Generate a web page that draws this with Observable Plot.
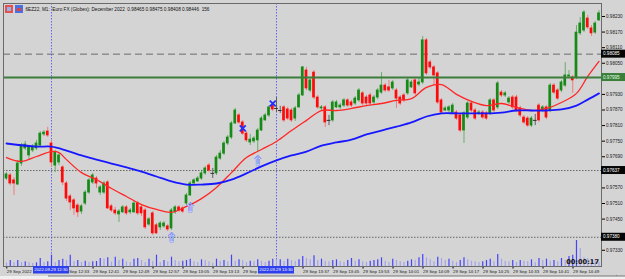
<!DOCTYPE html>
<html><head><meta charset="utf-8">
<script src="https://cdn.jsdelivr.net/npm/d3@7"></script>
<script src="https://cdn.jsdelivr.net/npm/@observablehq/plot@0.6"></script>
<style>
html,body{margin:0;padding:0;background:#d4d4d4;}
#wrap{position:relative;width:625px;height:279px;overflow:hidden;background:#d4d4d4;}
#wrap svg{position:absolute;left:0;top:0;}
</style></head>
<body><div id="wrap"></div>
<script>
// ---- data (Euro FX Dec 2022, M1 bars) ----
const open = [0.97606,0.97618,0.97599,0.97583,0.97664,0.97722,0.97695,0.97714,0.97722,0.97733,
0.97776,0.97787,0.97741,0.97656,0.97668,0.97649,0.97587,0.97537,0.97522,0.97502,
0.97479,0.97510,0.97552,0.97591,0.97606,0.97552,0.97552,0.97591,0.97499,0.97483,
0.97468,0.97476,0.97495,0.97476,0.97476,0.97510,0.97495,0.97483,0.97429,0.97472,
0.97426,0.97418,0.97422,0.97422,0.97414,0.97476,0.97495,0.97491,0.97510,0.97541,
0.97587,0.97595,0.97606,0.97626,0.97656,0.97626,0.97626,0.97683,0.97702,0.97741,
0.97764,0.97818,0.97849,0.97822,0.97779,0.97745,0.97749,0.97753,0.97791,0.97830,
0.97849,0.97887,0.97876,0.97868,0.97880,0.97872,0.97868,0.97837,0.97880,0.97926,
0.98022,0.97945,0.98014,0.97918,0.97876,0.97880,0.97830,0.97830,0.97880,0.97880,
0.97887,0.97907,0.97899,0.97895,0.97907,0.97934,0.97918,0.97926,0.97899,0.97918,
0.97937,0.97964,0.97957,0.97953,0.97945,0.97918,0.97926,0.97934,0.97957,0.97984,
0.97968,0.97976,0.98138,0.98053,0.98034,0.98011,0.97907,0.97868,0.97868,0.97860,
0.97860,0.97849,0.97791,0.97841,0.97895,0.97868,0.97857,0.97860,0.97857,0.97857,
0.97907,0.97880,0.97937,0.97926,0.97899,0.97918,0.97918,0.97876,0.97841,0.97837,
0.97810,0.97830,0.97887,0.97868,0.97880,0.97868,0.97964,0.97945,0.97945,0.97964,
0.97999,0.97995,0.97995,0.98165,0.98176,0.98222,0.98184,0.98168,0.98215];
const high = [0.97629,0.97626,0.97610,0.97676,0.97741,0.97749,0.97733,0.97737,0.97753,0.97787,
0.97791,0.97803,0.97753,0.97714,0.97702,0.97656,0.97595,0.97545,0.97529,0.97510,
0.97506,0.97560,0.97606,0.97626,0.97614,0.97579,0.97595,0.97599,0.97506,0.97495,
0.97487,0.97502,0.97502,0.97491,0.97518,0.97518,0.97502,0.97491,0.97456,0.97479,
0.97433,0.97441,0.97441,0.97429,0.97491,0.97502,0.97502,0.97499,0.97549,0.97595,
0.97606,0.97614,0.97633,0.97653,0.97664,0.97645,0.97695,0.97714,0.97749,0.97772,
0.97826,0.97876,0.97857,0.97830,0.97787,0.97776,0.97768,0.97799,0.97845,0.97857,
0.97887,0.97895,0.97918,0.97884,0.97887,0.97880,0.97876,0.97884,0.97934,0.98038,
0.98034,0.97995,0.98022,0.97926,0.97887,0.97887,0.97849,0.97907,0.97907,0.97895,
0.97914,0.97914,0.97907,0.97922,0.97953,0.97941,0.97926,0.97934,0.97926,0.97953,
0.98014,0.97972,0.97984,0.97984,0.97953,0.97926,0.97934,0.97995,0.97984,0.97991,
0.97991,0.98153,0.98145,0.98061,0.98041,0.98018,0.97914,0.97884,0.97887,0.97895,
0.97868,0.97857,0.97864,0.97903,0.97903,0.97876,0.97868,0.97868,0.97864,0.97914,
0.97914,0.97980,0.97945,0.97941,0.97922,0.97926,0.97926,0.97884,0.97849,0.97845,
0.97845,0.97853,0.97895,0.97887,0.97887,0.97972,0.97972,0.97953,0.97984,0.98053,
0.98022,0.98003,0.98195,0.98226,0.98253,0.98234,0.98195,0.98211,0.98253];
const low = [0.97599,0.97579,0.97541,0.97579,0.97653,0.97714,0.97676,0.97706,0.97714,0.97726,
0.97768,0.97764,0.97649,0.97629,0.97656,0.97579,0.97518,0.97483,0.97464,0.97456,
0.97468,0.97502,0.97545,0.97583,0.97568,0.97541,0.97545,0.97487,0.97476,0.97464,
0.97437,0.97472,0.97464,0.97468,0.97472,0.97464,0.97460,0.97410,0.97422,0.97387,
0.97391,0.97406,0.97414,0.97402,0.97406,0.97468,0.97476,0.97472,0.97502,0.97537,
0.97579,0.97591,0.97599,0.97618,0.97629,0.97606,0.97618,0.97676,0.97695,0.97733,
0.97756,0.97814,0.97814,0.97772,0.97745,0.97733,0.97741,0.97706,0.97787,0.97826,
0.97841,0.97864,0.97860,0.97857,0.97822,0.97830,0.97822,0.97826,0.97876,0.97922,
0.97945,0.97937,0.97910,0.97872,0.97868,0.97803,0.97810,0.97822,0.97876,0.97872,
0.97880,0.97880,0.97880,0.97887,0.97899,0.97887,0.97887,0.97887,0.97891,0.97910,
0.97930,0.97937,0.97937,0.97945,0.97876,0.97887,0.97899,0.97926,0.97953,0.97926,
0.97960,0.97968,0.98003,0.98026,0.97964,0.97891,0.97853,0.97864,0.97860,0.97853,
0.97830,0.97783,0.97741,0.97833,0.97860,0.97830,0.97849,0.97833,0.97830,0.97849,
0.97860,0.97872,0.97918,0.97918,0.97891,0.97872,0.97860,0.97841,0.97814,0.97803,
0.97803,0.97810,0.97822,0.97860,0.97833,0.97860,0.97930,0.97907,0.97937,0.97957,
0.97991,0.97934,0.97987,0.98157,0.98168,0.98180,0.98153,0.98161,0.98211];
const close = [0.97622,0.97587,0.97587,0.97664,0.97733,0.97737,0.97726,0.97729,0.97741,0.97779,
0.97783,0.97772,0.97668,0.97706,0.97695,0.97591,0.97529,0.97514,0.97491,0.97476,
0.97499,0.97552,0.97599,0.97618,0.97587,0.97572,0.97587,0.97491,0.97483,0.97472,
0.97479,0.97495,0.97472,0.97483,0.97510,0.97472,0.97472,0.97418,0.97449,0.97395,
0.97395,0.97433,0.97433,0.97410,0.97483,0.97495,0.97483,0.97479,0.97541,0.97587,
0.97599,0.97606,0.97626,0.97645,0.97637,0.97626,0.97687,0.97702,0.97741,0.97764,
0.97818,0.97868,0.97822,0.97779,0.97753,0.97756,0.97760,0.97791,0.97837,0.97849,
0.97880,0.97872,0.97876,0.97868,0.97830,0.97837,0.97830,0.97876,0.97926,0.98034,
0.97953,0.97984,0.97918,0.97880,0.97880,0.97822,0.97830,0.97899,0.97899,0.97887,
0.97907,0.97887,0.97887,0.97914,0.97945,0.97895,0.97895,0.97895,0.97918,0.97945,
0.97964,0.97945,0.97945,0.97976,0.97914,0.97895,0.97907,0.97984,0.97976,0.97934,
0.97976,0.98138,0.98011,0.98034,0.98003,0.97899,0.97860,0.97876,0.97880,0.97887,
0.97837,0.97791,0.97857,0.97895,0.97868,0.97837,0.97860,0.97841,0.97837,0.97907,
0.97868,0.97972,0.97926,0.97934,0.97914,0.97880,0.97868,0.97849,0.97822,0.97810,
0.97837,0.97830,0.97830,0.97880,0.97841,0.97964,0.97937,0.97914,0.97976,0.98003,
0.98003,0.97984,0.98168,0.98203,0.98245,0.98188,0.98165,0.98203,0.98242];
const volume = [50,90,60,90,60,70,60,45,55,120,
60,70,170,60,90,110,90,170,70,90,
60,80,60,70,75,120,110,130,65,140,
90,110,70,60,110,120,90,60,110,75,
170,60,90,70,140,90,70,80,90,110,
70,60,100,90,70,50,110,80,90,70,
170,80,100,90,60,80,70,100,80,60,
80,110,90,100,70,110,90,80,100,150,
120,100,160,90,110,80,70,90,100,70,
60,90,120,80,100,70,60,80,90,100,
130,80,60,110,90,70,60,80,100,90,
130,180,130,100,70,140,120,90,110,80,
60,90,130,100,80,70,60,70,90,110,
70,180,110,80,70,90,60,90,80,70,
100,60,120,90,110,80,90,70,120,90,
150,170,390,270,130,120,100,90,60];

const redMAIdx = [0,4,8,12,14,16,20,24,28,32,36,40,44,48,52,56,60,64,68,72,76,80,84,88,92,96,100,104,108,112,116,120,124,128,132,136,140,144,148,152,155,158];
const redMA = [0.97687,0.97672,0.97691,0.97710,0.97706,0.97679,0.97629,0.97602,0.97568,0.97537,0.97506,0.97487,0.97476,0.97499,0.97529,0.97572,0.97629,0.97687,0.97718,0.97749,0.97791,0.97830,0.97868,0.97868,0.97876,0.97887,0.97895,0.97907,0.97914,0.97957,0.97968,0.97930,0.97903,0.97887,0.97895,0.97880,0.97868,0.97876,0.97899,0.97934,0.97999,0.98057];
const blueMAIdx = [0,8,12,16,20,24,28,32,36,40,44,48,52,56,60,64,68,72,76,80,84,88,92,96,100,104,108,112,116,120,124,128,132,136,140,144,148,152,155,158];
const blueMA = [0.97741,0.97729,0.97729,0.97714,0.97695,0.97679,0.97664,0.97649,0.97633,0.97614,0.97595,0.97583,0.97583,0.97587,0.97602,0.97626,0.97653,0.97676,0.97695,0.97710,0.97733,0.97745,0.97756,0.97776,0.97791,0.97806,0.97822,0.97845,0.97857,0.97857,0.97857,0.97857,0.97860,0.97868,0.97868,0.97868,0.97872,0.97887,0.97910,0.97934];

// tick labels visible on the price axis (the others are hidden behind the level boxes)
const yTicks = [0.98230,0.98170,0.98110,0.98050,0.97930,0.97870,0.97810,0.97750,0.97690,0.97570,0.97510,0.97450,0.97330];
const timeTickIdx = [0,15,23,31,39,47,55,63,79,87,95,103,111,119,127,135,143,151];
const timeLabels = ["29 Sep 2022","29 Sep 12:33","29 Sep 12:41","29 Sep 12:49","29 Sep 12:57","29 Sep 13:05","29 Sep 13:13","29 Sep 13:21","29 Sep 13:37","29 Sep 13:45","29 Sep 13:53","29 Sep 14:01","29 Sep 14:09","29 Sep 14:17","29 Sep 14:25","29 Sep 14:33","29 Sep 14:41","29 Sep 14:49"];

const levelDashed = [0.98085];
const levelGreen = [0.97995];
const levelDotted = [0.97637, 0.97380];
const boxLevels = [0.98085, 0.97995, 0.97637, 0.97380];
const vLineIdx = [12, 72];
const vLineLabels = ["2022.09.29 12:30", "2022.09.29 13:30"];
const arrowIdx = [44, 49, 67];
const arrowPrice = [0.97379, 0.97495, 0.97676];
const crossIdx = [63, 71];
const crossPrice = [0.97799, 0.97895];
const headerText = "6EZ22, M1:  Euro FX (Globex): December 2022  0.98465 0.98475 0.98408 0.98446  156";
const timerText = "00:00:17";

// ---- build ----
const bars = open.map((o, i) => ({i, open: o, high: high[i], low: low[i], close: close[i], vol: volume[i]}));
const up = bars.filter(d => d.close > d.open);
const dn = bars.filter(d => d.close < d.open);
const dj = bars.filter(d => d.close === d.open);
const redLine = redMAIdx.map((i, k) => ({i, v: redMA[k]}));
const blueLine = blueMAIdx.map((i, k) => ({i, v: blueMA[k]}));
const arrows = arrowIdx.map((i, k) => ({i, p: arrowPrice[k]}));
const crosses = crossIdx.map((i, k) => ({i, p: crossPrice[k]}));
const labelOf = new Map(timeTickIdx.map((d, k) => [d, timeLabels[k]]));
const volUp = bars.filter(d => d.i > 0 && d.vol > volume[d.i - 1]);
const volDn = bars.filter(d => !(d.i > 0 && d.vol > volume[d.i - 1]));

const W = 625, H = 279, mL = 3, mR = 24, mT = 3, mB = 13;
const xDom = [-0.8, bars.length - 1 + 0.67];
const yDom = [0.972675, 0.98280];
const bw = 0.36;
const FONT = "Liberation Sans, Arial, sans-serif";

const main = Plot.plot({
  width: W, height: H, marginLeft: mL, marginRight: mR, marginTop: mT, marginBottom: mB,
  style: {background: "#d4d4d4", fontFamily: FONT, overflow: "visible"},
  x: {domain: xDom, axis: null},
  y: {domain: yDom, axis: null},
  marks: [
    Plot.ruleY(levelDotted, {stroke: "#4a4a4a", strokeDasharray: "1.5,1.5", strokeWidth: 0.8}),
    Plot.ruleY(levelDashed, {stroke: "#6a6a6a", strokeDasharray: "7,4", strokeWidth: 1}),
    Plot.ruleX(vLineIdx, {stroke: "#4646ff", strokeDasharray: "1.5,1.5", strokeWidth: 0.8}),
    // wicks
    Plot.ruleX(up, {x: "i", y1: "low", y2: "high", stroke: "#68b068", strokeWidth: 1}),
    Plot.ruleX(dn, {x: "i", y1: "low", y2: "high", stroke: "#f27a7a", strokeWidth: 1}),
    Plot.ruleX(dj, {x: "i", y1: "low", y2: "high", stroke: "#606060", strokeWidth: 1}),
    // bodies
    Plot.rect(up, {x1: d => d.i - bw, x2: d => d.i + bw, y1: "open", y2: "close", fill: "#168a16", insetTop: -0.4, insetBottom: -0.4}),
    Plot.rect(dn, {x1: d => d.i - bw, x2: d => d.i + bw, y1: "open", y2: "close", fill: "#ff0a0a", insetTop: -0.4, insetBottom: -0.4}),
    Plot.ruleY(dj, {y: "open", x1: d => d.i - 0.5, x2: d => d.i + 0.5, stroke: "#303030", strokeWidth: 1}),
    // moving averages
    Plot.line(redLine, {x: "i", y: "v", stroke: "#ff2626", strokeWidth: 1.3, curve: "catmull-rom"}),
    Plot.line(blueLine, {x: "i", y: "v", stroke: "#1818ff", strokeWidth: 1.8, curve: "catmull-rom"}),
    // green level line
    Plot.ruleY(levelGreen, {stroke: "#3b7d3b", strokeWidth: 2}),
    // signals
    Plot.text(arrows, {x: "i", y: "p", text: () => "\u21E7", fill: "#dfe3ff", stroke: "#2f44ff", strokeWidth: 0.6, fontSize: 13, fontFamily: "DejaVu Sans"}),
    Plot.dot(crosses, {x: "i", y: "p", symbol: "times", r: 2.8, stroke: "#1f2fff", strokeWidth: 1.8}),
    // axes
    Plot.axisY(yTicks, {anchor: "right", tickSize: 3, tickPadding: 1.5, fontSize: 4.6, fill: "#222", tickFormat: d => d.toFixed(5)}),
    Plot.axisX(timeTickIdx, {anchor: "bottom", tickSize: 2.5, tickPadding: 1, fontSize: 4.4, fill: "#222", textAnchor: "start", dx: 0.3, tickFormat: d => labelOf.get(d)}),
    Plot.frame({stroke: "#6a6a6a", strokeWidth: 1})
  ]
});

const vol = Plot.plot({
  width: W, height: H, marginLeft: mL, marginRight: mR, marginTop: mT, marginBottom: mB,
  style: {background: "transparent"},
  x: {domain: xDom, axis: null},
  y: {domain: [0, 390], range: [H - mB, H - mB - 26], axis: null},
  marks: [
    Plot.ruleX(volDn, {x: "i", y1: 0, y2: "vol", stroke: "#a4a4ee", strokeWidth: 1.2}),
    Plot.ruleX(volUp, {x: "i", y1: 0, y2: "vol", stroke: "#4444ff", strokeWidth: 1.2})
  ]
});

const wrap = document.getElementById("wrap");
wrap.appendChild(main);
wrap.appendChild(vol);

// ---- annotations drawn with the plot's own scales ----
const sx = main.scale("x"), sy = main.scale("y");
const s = d3.select(main);
const xR = W - mR;
boxLevels.forEach(p => {
  const y = sy.apply(p);
  const g = levelGreen.includes(p);
  s.append("rect").attr("x", xR).attr("y", y - 4).attr("width", mR).attr("height", 8).attr("fill", g ? "#3b7f3b" : "#060606");
  s.append("text").attr("x", xR + 2).attr("y", y).attr("dy", "0.35em").attr("text-anchor", "start").attr("font-size", 4.6)
    .attr("font-family", FONT).attr("fill", g ? "#e6ffe6" : "#ffffff").text(p.toFixed(5));
});
vLineIdx.forEach((idx, k) => {
  const x = sx.apply(idx);
  s.append("rect").attr("x", x - 18).attr("y", H - mB).attr("width", 36).attr("height", 7.5).attr("fill", "#2e40ee");
  s.append("text").attr("x", x).attr("y", H - mB + 3.9).attr("dy", "0.35em").attr("text-anchor", "middle").attr("font-size", 4.3)
    .attr("font-family", FONT).attr("fill", "#ffffff").text(vLineLabels[k]);
});
// header icons + text
s.append("rect").attr("x", 5).attr("y", 5).attr("width", 8).attr("height", 8).attr("fill", "#e85050");
s.append("rect").attr("x", 7).attr("y", 7).attr("width", 4).attr("height", 4).attr("fill", "#8fb4f0");
s.append("rect").attr("x", 15).attr("y", 5).attr("width", 8).attr("height", 8).attr("fill", "#4a6fe0");
s.append("rect").attr("x", 17).attr("y", 8).attr("width", 4).attr("height", 3).attr("fill", "#e04040");
s.append("text").attr("x", 25.5).attr("y", 9).attr("dy", "0.35em").attr("text-anchor", "start").attr("font-size", 4.7)
  .attr("font-family", FONT).attr("fill", "#111").text(headerText);
// bottom strip
s.append("rect").attr("x", 0).attr("y", 276).attr("width", W).attr("height", 3).attr("fill", "#f0f0f0");
s.append("line").attr("x1", 48).attr("x2", W).attr("y1", 276).attr("y2", 276).attr("stroke", "#777").attr("stroke-width", 1);

// timer on top of volumes
const sv = d3.select(vol);
sv.append("text").attr("x", xR - 2).attr("y", 261.5).attr("dy", "0.35em").attr("text-anchor", "end")
  .attr("font-size", 6.6).attr("font-weight", "bold").attr("font-family", "DejaVu Sans, Arial, sans-serif")
  .attr("fill", "#111").text(timerText);
</script>
</body></html>
